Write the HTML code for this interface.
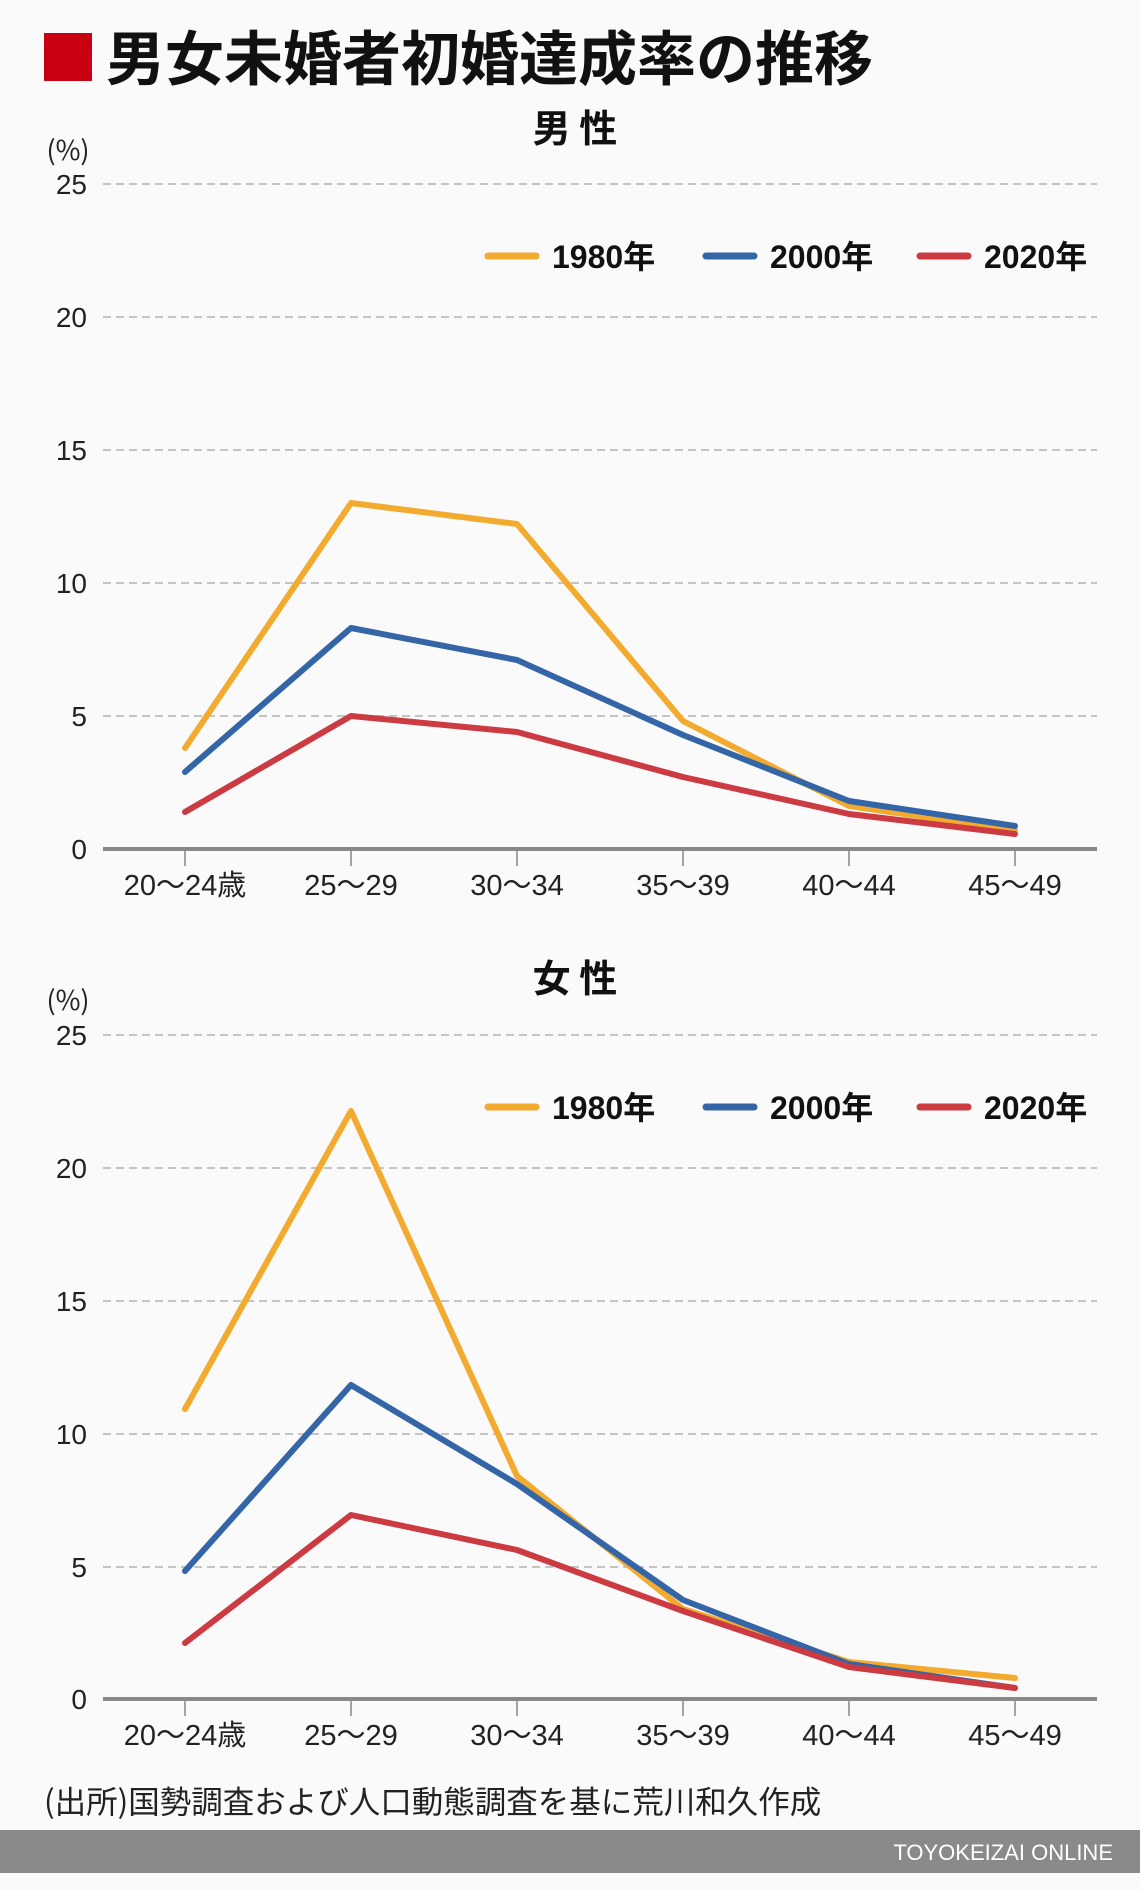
<!DOCTYPE html>
<html><head><meta charset="utf-8"><style>
html,body{margin:0;padding:0;background:#fafafa;}
svg{display:block;}
text{font-family:"Liberation Sans","Noto Sans CJK JP",sans-serif;}
</style></head><body>
<svg width="1140" height="1890" viewBox="0 0 1140 1890" xmlns="http://www.w3.org/2000/svg">
<rect width="1140" height="1890" fill="#fafafa"/>
<rect x="44" y="33" width="48" height="48" fill="#c8000f"/>
<text x="106" y="80" font-size="59" font-weight="bold" fill="#111" style="font-family:'Noto Sans CJK JP',sans-serif">男女未婚者初婚達成率の推移</text>

<g>
<text x="575" y="142" font-size="38" text-anchor="middle" fill="#111" font-weight="bold" style="font-family:'Noto Sans CJK JP',sans-serif">男 性</text>
<text x="68" y="160" font-size="27" text-anchor="middle" fill="#222" style="font-family:'Noto Sans CJK JP',sans-serif">(%)</text>
<g stroke="#c4c4c4" stroke-width="2" stroke-dasharray="8 5">
<line x1="103" y1="184" x2="1097" y2="184"/><line x1="103" y1="317" x2="1097" y2="317"/><line x1="103" y1="450" x2="1097" y2="450"/><line x1="103" y1="583" x2="1097" y2="583"/><line x1="103" y1="716" x2="1097" y2="716"/>
</g>
<g font-size="28" fill="#222" text-anchor="end">
<text x="87" y="194">25</text><text x="87" y="327">20</text><text x="87" y="460">15</text><text x="87" y="593">10</text><text x="87" y="726">5</text><text x="87" y="859">0</text>
</g>
<line x1="103" y1="849" x2="1097" y2="849" stroke="#888" stroke-width="4"/>
<g stroke="#888" stroke-width="1.5"><line x1="185" y1="849" x2="185" y2="866"/><line x1="351" y1="849" x2="351" y2="866"/><line x1="517" y1="849" x2="517" y2="866"/><line x1="683" y1="849" x2="683" y2="866"/><line x1="849" y1="849" x2="849" y2="866"/><line x1="1015" y1="849" x2="1015" y2="866"/></g>
<g font-size="29" fill="#222" text-anchor="middle">
<text x="185" y="895">20〜24歳</text><text x="351" y="895">25〜29</text><text x="517" y="895">30〜34</text><text x="683" y="895">35〜39</text><text x="849" y="895">40〜44</text><text x="1015" y="895">45〜49</text>
</g>
<g fill="none" stroke-width="6" stroke-linejoin="round" stroke-linecap="round">
<polyline stroke="#f2ab2e" points="185,748 351,503 517,524 683,721 849,806 1015,830"/>
<polyline stroke="#3465a6" points="185,772 351,628 517,660 683,735 849,801 1015,826"/>
<polyline stroke="#cc3a42" points="185,812 351,716 517,732 683,777 849,814 1015,834"/>
</g>
<g stroke-width="7" stroke-linecap="round">
<line x1="488" y1="256" x2="536" y2="256" stroke="#f2ab2e"/><line x1="706" y1="256" x2="754" y2="256" stroke="#3465a6"/><line x1="920" y1="256" x2="968" y2="256" stroke="#cc3a42"/>
</g>
<g font-size="32" font-weight="bold" fill="#111">
<text x="552" y="268">1980<tspan style="font-family:'Noto Sans CJK JP',sans-serif">年</tspan></text>
<text x="770" y="268">2000<tspan style="font-family:'Noto Sans CJK JP',sans-serif">年</tspan></text>
<text x="984" y="268">2020<tspan style="font-family:'Noto Sans CJK JP',sans-serif">年</tspan></text>
</g>
</g>

<g>
<text x="575" y="992" font-size="38" text-anchor="middle" fill="#111" font-weight="bold" style="font-family:'Noto Sans CJK JP',sans-serif">女 性</text>
<text x="68" y="1010" font-size="27" text-anchor="middle" fill="#222" style="font-family:'Noto Sans CJK JP',sans-serif">(%)</text>
<g stroke="#c4c4c4" stroke-width="2" stroke-dasharray="8 5">
<line x1="103" y1="1035" x2="1097" y2="1035"/><line x1="103" y1="1168" x2="1097" y2="1168"/><line x1="103" y1="1301" x2="1097" y2="1301"/><line x1="103" y1="1434" x2="1097" y2="1434"/><line x1="103" y1="1567" x2="1097" y2="1567"/>
</g>
<g font-size="28" fill="#222" text-anchor="end">
<text x="87" y="1045">25</text><text x="87" y="1178">20</text><text x="87" y="1311">15</text><text x="87" y="1444">10</text><text x="87" y="1577">5</text><text x="87" y="1709">0</text>
</g>
<line x1="103" y1="1699" x2="1097" y2="1699" stroke="#888" stroke-width="4"/>
<g stroke="#888" stroke-width="1.5"><line x1="185" y1="1699" x2="185" y2="1716"/><line x1="351" y1="1699" x2="351" y2="1716"/><line x1="517" y1="1699" x2="517" y2="1716"/><line x1="683" y1="1699" x2="683" y2="1716"/><line x1="849" y1="1699" x2="849" y2="1716"/><line x1="1015" y1="1699" x2="1015" y2="1716"/></g>
<g font-size="29" fill="#222" text-anchor="middle">
<text x="185" y="1745">20〜24歳</text><text x="351" y="1745">25〜29</text><text x="517" y="1745">30〜34</text><text x="683" y="1745">35〜39</text><text x="849" y="1745">40〜44</text><text x="1015" y="1745">45〜49</text>
</g>
<g fill="none" stroke-width="6" stroke-linejoin="round" stroke-linecap="round">
<polyline stroke="#f2ab2e" points="185,1409 351,1111 517,1476 683,1609 849,1662 1015,1678"/>
<polyline stroke="#3465a6" points="185,1571 351,1385 517,1484 683,1600 849,1664 1015,1688"/>
<polyline stroke="#cc3a42" points="185,1643 351,1515 517,1550 683,1611 849,1667 1015,1688"/>
</g>
<g stroke-width="7" stroke-linecap="round">
<line x1="488" y1="1107" x2="536" y2="1107" stroke="#f2ab2e"/><line x1="706" y1="1107" x2="754" y2="1107" stroke="#3465a6"/><line x1="920" y1="1107" x2="968" y2="1107" stroke="#cc3a42"/>
</g>
<g font-size="32" font-weight="bold" fill="#111">
<text x="552" y="1119">1980<tspan style="font-family:'Noto Sans CJK JP',sans-serif">年</tspan></text>
<text x="770" y="1119">2000<tspan style="font-family:'Noto Sans CJK JP',sans-serif">年</tspan></text>
<text x="984" y="1119">2020<tspan style="font-family:'Noto Sans CJK JP',sans-serif">年</tspan></text>
</g>
</g>

<text x="44" y="1813" font-size="31.5" fill="#222" style="font-family:'Noto Sans CJK JP',sans-serif">(出所)国勢調査および人口動態調査を基に荒川和久作成</text>
<rect x="0" y="1830" width="1140" height="43" fill="#8a8a8a"/>
<text x="1113" y="1860" font-size="22" fill="#fff" text-anchor="end">TOYOKEIZAI ONLINE</text>
</svg>
</body></html>
